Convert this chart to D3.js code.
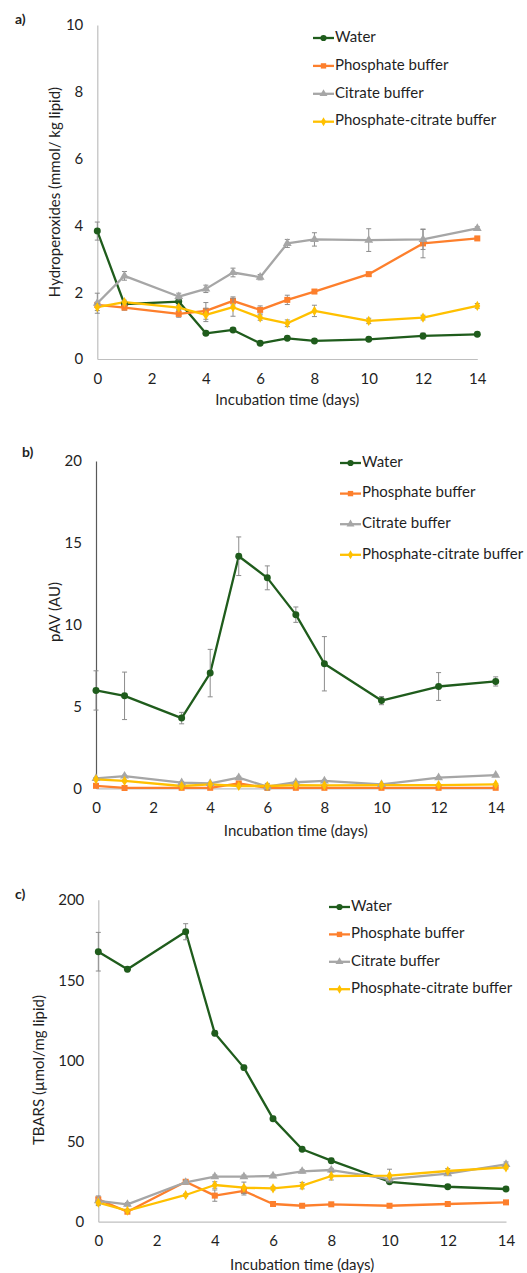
<!DOCTYPE html>
<html>
<head>
<meta charset="utf-8">
<script src="https://cdn.jsdelivr.net/npm/d3@7"></script>
<style>
  html, body { margin: 0; padding: 0; background: #fff; }
  svg { display: block; }
  text { font-family: Lato, "Open Sans", sans-serif; fill: #1f1f1f; }
</style>
</head>
<body>
<svg id="chart" width="527" height="1273"></svg>
<script>
// ---------- data ----------
const days = [0, 1, 3, 4, 5, 6, 7, 8, 10, 12, 14];
const xTicks = [0, 2, 4, 6, 8, 10, 12, 14];
const seriesNames = ["Water", "Phosphate buffer", "Citrate buffer", "Phosphate-citrate buffer"];

// a) Hydroperoxides
const hpTicks = [0, 2, 4, 6, 8, 10];
const hpWater     = [3.83, 1.64, 1.72, 0.77, 0.87, 0.47, 0.62, 0.54, 0.59, 0.69, 0.74];
const hpWaterErr  = [0.27, 0.04, 0.04, 0.06, 0.05, 0.05, 0.05, 0.04, 0.05, 0.09, 0.05];
const hpPhos      = [1.62, 1.54, 1.35, 1.44, 1.74, 1.47, 1.77, 2.02, 2.54, 3.46, 3.61];
const hpPhosErr   = [0.08, 0.08, 0.10, 0.25, 0.12, 0.12, 0.14, 0.06, 0.06, 0.43, 0.06];
const hpCit       = [1.67, 2.49, 1.87, 2.10, 2.59, 2.45, 3.46, 3.58, 3.56, 3.58, 3.91];
const hpCitErr    = [0.30, 0.13, 0.10, 0.11, 0.13, 0.08, 0.12, 0.20, 0.34, 0.30, 0.05];
const hpPC        = [1.55, 1.70, 1.54, 1.32, 1.55, 1.24, 1.07, 1.44, 1.14, 1.24, 1.59];
const hpPCErr     = [0.10, 0.06, 0.06, 0.20, 0.27, 0.08, 0.10, 0.17, 0.08, 0.07, 0.07];

// b) pAV
const pavTicks = [0, 5, 10, 15, 20];
const pavWater    = [5.98, 5.65, 4.29, 7.04, 14.18, 12.86, 10.61, 7.61, 5.36, 6.22, 6.53];
const pavWaterErr = [1.20, 1.45, 0.35, 1.45, 1.18, 0.73, 0.47, 1.66, 0.25, 0.85, 0.28];
const pavPhos     = [0.15, 0.02, 0.03, 0.03, 0.30, 0.03, 0.03, 0.03, 0.03, 0.03, 0.03];
const pavPhosErr  = [0.05, 0.02, 0.02, 0.02, 0.08, 0.02, 0.02, 0.02, 0.02, 0.02, 0.02];
const pavCit      = [0.61, 0.75, 0.35, 0.30, 0.65, 0.10, 0.37, 0.45, 0.24, 0.65, 0.80];
const pavCitErr   = [0.05, 0.05, 0.05, 0.05, 0.08, 0.20, 0.05, 0.05, 0.05, 0.05, 0.05];
const pavPC       = [0.55, 0.45, 0.14, 0.24, 0.14, 0.14, 0.20, 0.18, 0.20, 0.20, 0.24];
const pavPCErr    = [0.05, 0.05, 0.05, 0.05, 0.05, 0.05, 0.05, 0.05, 0.05, 0.05, 0.05];

// c) TBARS
const tbTicks = [0, 50, 100, 150, 200];
const tbWater     = [167.7, 156.8, 180.1, 117.0, 95.7, 64.0, 45.0, 37.9, 24.8, 21.7, 20.3];
const tbWaterErr  = [12.0, 1.5, 5.0, 1.5, 1.5, 1.5, 1.0, 1.5, 1.0, 1.0, 1.0];
const tbPhos      = [13.9, 6.2, 24.8, 16.2, 19.1, 11.0, 9.9, 10.8, 9.9, 11.0, 12.0];
const tbPhosErr   = [1.0, 0.8, 1.0, 3.5, 2.5, 0.8, 0.8, 0.8, 0.8, 0.8, 0.8];
const tbCit       = [13.0, 10.8, 24.5, 28.0, 28.0, 28.4, 31.3, 32.1, 26.5, 29.8, 35.6];
const tbCitErr    = [3.0, 1.0, 1.0, 1.0, 1.0, 1.0, 1.0, 1.0, 1.0, 1.0, 1.5];
const tbPC        = [11.8, 6.8, 16.6, 22.8, 21.1, 20.7, 22.4, 28.4, 28.6, 31.5, 33.8];
const tbPCErr     = [1.0, 0.8, 0.8, 2.0, 3.5, 1.0, 2.0, 2.5, 4.0, 1.5, 1.0];

// ---------- styles ----------
const colors = ["#1f5c1c", "#fd7f2c", "#a6a6a6", "#ffc000"];
const shapes = [d3.symbolCircle, d3.symbolSquare, d3.symbolTriangle, d3.symbolDiamond];
const shapeSizes = [38, 36, 34, 30];
const FS = "15px";

const svg = d3.select("#chart");

function drawPanel(cfg) {
  const g = svg.append("g");
  const x = d3.scaleLinear().domain([0, 14]).range([cfg.left, cfg.right]);
  const y = d3.scaleLinear().domain([0, cfg.yMax]).range([cfg.bottom, cfg.top]);

  // axes (no tick marks, Excel style)
  const yAxis = d3.axisLeft(y).tickValues(cfg.yTicks).tickSize(0).tickPadding(14);
  const yg = g.append("g").attr("transform", `translate(${cfg.left},0)`).call(yAxis);
  yg.select(".domain").attr("stroke", cfg.yAxisColor).attr("stroke-width", 1.2);
  yg.selectAll("text").style("font-size", FS).style("font-family", "Lato, sans-serif").attr("fill", "#1f1f1f");

  const xAxis = d3.axisBottom(x).tickValues(xTicks).tickSize(0).tickPadding(14);
  const xg = g.append("g").attr("transform", `translate(0,${cfg.bottom})`).call(xAxis);
  xg.select(".domain").attr("stroke", "#bfbfbf").attr("stroke-width", 1.2);
  xg.selectAll("text").style("font-size", FS).style("font-family", "Lato, sans-serif").attr("fill", "#1f1f1f");

  // titles
  g.append("text").attr("x", (cfg.left + cfg.right) / 2).attr("y", cfg.xTitleY)
    .attr("text-anchor", "middle").attr("dominant-baseline", "middle")
    .style("font-size", FS).text("Incubation time (days)");
  g.append("text")
    .attr("transform", `translate(${cfg.yTitleX},${cfg.yTitleY}) rotate(-90)`)
    .attr("text-anchor", "middle").attr("dominant-baseline", "middle")
    .style("font-size", FS).text(cfg.yTitle);
  g.append("text").attr("x", cfg.labelX).attr("y", cfg.labelY)
    .attr("dominant-baseline", "middle")
    .style("font-size", "14px").style("font-weight", "bold").text(cfg.label);

  const line = d3.line().x((d, i) => x(days[i])).y(d => y(d));

  cfg.series.forEach((s, k) => {
    g.append("path").datum(s.values).attr("d", line)
      .attr("fill", "none").attr("stroke", colors[k]).attr("stroke-width", 2.3)
      .attr("stroke-linejoin", "round");
  });

  cfg.series.forEach((s, k) => {
    // error bars
    const eb = g.append("g").attr("stroke", "#8c8c8c").attr("stroke-width", 1);
    s.values.forEach((v, i) => {
      const e = s.errors[i];
      const cx = x(days[i]);
      eb.append("line").attr("x1", cx).attr("x2", cx).attr("y1", y(v - e)).attr("y2", y(v + e));
      eb.append("line").attr("x1", cx - 2.5).attr("x2", cx + 2.5).attr("y1", y(v - e)).attr("y2", y(v - e));
      eb.append("line").attr("x1", cx - 2.5).attr("x2", cx + 2.5).attr("y1", y(v + e)).attr("y2", y(v + e));
    });
    // markers
    g.append("g").selectAll("path").data(s.values).join("path")
      .attr("transform", (d, i) => `translate(${x(days[i])},${y(d)})`)
      .attr("d", d3.symbol().type(shapes[k]).size(shapeSizes[k]))
      .attr("fill", colors[k]);
  });

  // legend
  seriesNames.forEach((name, k) => {
    const ly = cfg.legendY + k * cfg.legendGap;
    const lg = g.append("g");
    lg.append("line").attr("x1", cfg.legendX).attr("x2", cfg.legendX + 21)
      .attr("y1", ly).attr("y2", ly).attr("stroke", colors[k]).attr("stroke-width", 2.3);
    lg.append("path").attr("transform", `translate(${cfg.legendX + 10.5},${ly})`)
      .attr("d", d3.symbol().type(shapes[k]).size(shapeSizes[k] * 0.8)).attr("fill", colors[k]);
    lg.append("text").attr("x", cfg.legendX + 22).attr("y", ly)
      .attr("dominant-baseline", "middle").style("font-size", FS).text(name);
  });
}

drawPanel({
  label: "a)", labelX: 15, labelY: 20,
  left: 97.3, right: 477.3, top: 25, bottom: 359, yMax: 10, yTicks: hpTicks,
  yAxisColor: "#bfbfbf",
  yTitle: "Hydroperoxides (mmol/ kg lipid)", yTitleX: 56, yTitleY: 192, xTitleY: 401,
  legendX: 313, legendY: 38, legendGap: 27.9,
  series: [
    { values: hpWater, errors: hpWaterErr },
    { values: hpPhos, errors: hpPhosErr },
    { values: hpCit, errors: hpCitErr },
    { values: hpPC, errors: hpPCErr }
  ]
});

drawPanel({
  label: "b)", labelX: 22, labelY: 453,
  left: 96, right: 495.7, top: 461, bottom: 788.3, yMax: 20, yTicks: pavTicks,
  yAxisColor: "#595959",
  yTitle: "pAV (AU)", yTitleX: 56, yTitleY: 612, xTitleY: 832,
  legendX: 340, legendY: 463, legendGap: 30.6,
  series: [
    { values: pavWater, errors: pavWaterErr },
    { values: pavPhos, errors: pavPhosErr },
    { values: pavCit, errors: pavCitErr },
    { values: pavPC, errors: pavPCErr }
  ]
});

drawPanel({
  label: "c)", labelX: 15, labelY: 895,
  left: 98.3, right: 506, top: 899.7, bottom: 1221.7, yMax: 200, yTicks: tbTicks,
  yAxisColor: "#bfbfbf",
  yTitle: "TBARS (µmol/mg lipid)", yTitleX: 40, yTitleY: 1070, xTitleY: 1266,
  legendX: 329, legendY: 907, legendGap: 27.4,
  series: [
    { values: tbWater, errors: tbWaterErr },
    { values: tbPhos, errors: tbPhosErr },
    { values: tbCit, errors: tbCitErr },
    { values: tbPC, errors: tbPCErr }
  ]
});
</script>
</body>
</html>
